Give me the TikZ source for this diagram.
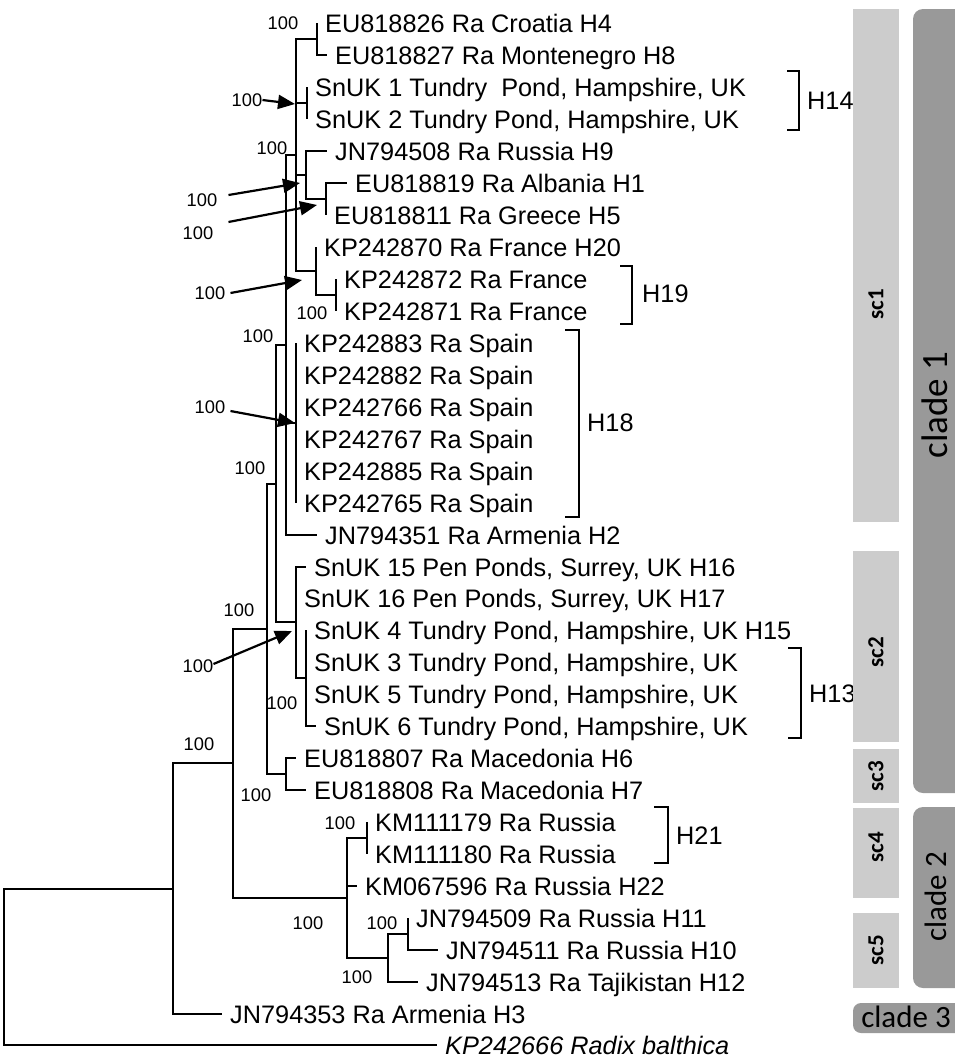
\documentclass[tikz,border=0pt]{standalone}
\usepackage{fontspec}
\setmainfont{Liberation Sans}
\newfontfamily\cladefont{Carlito}
\usetikzlibrary{arrows.meta}
\definecolor{scgray}{HTML}{CCCCCC}
\definecolor{cladegray}{HTML}{999999}
\begin{document}
\begin{tikzpicture}[x=1pt, y=-1pt,
		branch/.style={line width=1.8pt},
		leaf/.style={anchor=west, inner xsep=8pt, inner ysep=0pt, text height=18.1pt, text depth=0pt, font=\fontsize{25.3}{28}\selectfont},
		boot/.style={inner sep=0pt, text height=13.1pt, text depth=0pt, font=\fontsize{18.3}{20}\selectfont},
		pointer/.style={line width=2.2pt, -{Triangle[length=17pt, width=14pt]}},
		hap/.style={line width=1.8pt},
		haplabel/.style={anchor=west, inner sep=0pt, text height=18.1pt, text depth=0pt, font=\fontsize{25.3}{28}\selectfont},
		subclade/.style={rotate=90, font=\cladefont\bfseries\fontsize{23}{25}\selectfont},
		clade/.style={font=\cladefont\fontsize{31}{34}\selectfont}]
	\useasboundingbox (0,0) rectangle (955,1058);
	\clip (0,0) rectangle (955,1058);

	\coordinate (root) at (4,967);
	\coordinate (nB) at (173,889);
	\coordinate (nC) at (233,763);
	\coordinate (nD) at (267,629);
	\coordinate (nE) at (276,484);
	\coordinate (nG) at (286,345);
	\coordinate (nI) at (296,155);
	\coordinate (nJ) at (317,39);
	\coordinate (nS12) at (307,103);
	\coordinate (nR) at (306,175);
	\coordinate (nAG) at (326,199);
	\coordinate (nFr) at (316,271);
	\coordinate (nF2) at (336,295);
	\coordinate (nSp) at (296,423);
	\coordinate (nH) at (296,622);
	\coordinate (nS46) at (306,678);
	\coordinate (nF) at (286,774);
	\coordinate (nK) at (347,898);
	\coordinate (nKM) at (367,838);
	\coordinate (nJN) at (388,958);
	\coordinate (nJN2) at (408,934);

	\node[leaf] (l1) at (317,23) {EU818826 Ra Croatia H4};
	\node[leaf] (l2) at (327,55) {EU818827 Ra Montenegro H8};
	\node[leaf] (l3) at (307,87) {SnUK 1 Tundry\ \ Pond, Hampshire, UK};
	\node[leaf] (l4) at (307,119) {SnUK 2 Tundry Pond, Hampshire, UK};
	\node[leaf] (l5) at (327,151) {JN794508 Ra Russia H9};
	\node[leaf] (l6) at (347,183) {EU818819 Ra Albania H1};
	\node[leaf] (l7) at (326,215) {EU818811 Ra Greece H5};
	\node[leaf] (l8) at (316,247) {KP242870 Ra France H20};
	\node[leaf] (l9) at (336,279) {KP242872 Ra France};
	\node[leaf] (l10) at (336,311) {KP242871 Ra France};
	\node[leaf] (l11) at (296,343) {KP242883 Ra Spain};
	\node[leaf] (l12) at (296,375) {KP242882 Ra Spain};
	\node[leaf] (l13) at (296,407) {KP242766 Ra Spain};
	\node[leaf] (l14) at (296,439) {KP242767 Ra Spain};
	\node[leaf] (l15) at (296,471) {KP242885 Ra Spain};
	\node[leaf] (l16) at (296,503) {KP242765 Ra Spain};
	\node[leaf] (l17) at (317,535) {JN794351 Ra Armenia H2};
	\node[leaf] (l18) at (306,567) {SnUK 15 Pen Ponds, Surrey, UK H16};
	\node[leaf] (l19) at (296,598) {SnUK 16 Pen Ponds, Surrey, UK H17};
	\node[leaf] (l20) at (306,630) {SnUK 4 Tundry Pond, Hampshire, UK H15};
	\node[leaf] (l21) at (306,662) {SnUK 3 Tundry Pond, Hampshire, UK};
	\node[leaf] (l22) at (306,694) {SnUK 5 Tundry Pond, Hampshire, UK};
	\node[leaf] (l23) at (316,726) {SnUK 6 Tundry Pond, Hampshire, UK};
	\node[leaf] (l24) at (296,758) {EU818807 Ra Macedonia H6};
	\node[leaf] (l25) at (306,790) {EU818808 Ra Macedonia H7};
	\node[leaf] (l26) at (367,822) {KM111179 Ra Russia};
	\node[leaf] (l27) at (367,854) {KM111180 Ra Russia};
	\node[leaf] (l28) at (357,886) {KM067596 Ra Russia H22};
	\node[leaf] (l29) at (408,918) {JN794509 Ra Russia H11};
	\node[leaf] (l30) at (438,950) {JN794511 Ra Russia H10};
	\node[leaf] (l31) at (418,982) {JN794513 Ra Tajikistan H12};
	\node[leaf] (l32) at (222,1014) {JN794353 Ra Armenia H3};
	\node[leaf] (l33) at (437,1045) {\itshape KP242666 Radix balthica};

	\draw[branch] (root) |- (nB);
	\draw[branch] (root) |- (l33.west);
	\draw[branch] (nB) |- (nC);
	\draw[branch] (nB) |- (l32.west);
	\draw[branch] (nC) |- (nD);
	\draw[branch] (nC) |- (nK);
	\draw[branch] (nD) |- (nE);
	\draw[branch] (nD) |- (nF);
	\draw[branch] (nE) |- (nG);
	\draw[branch] (nE) |- (nH);
	\draw[branch] (nG) |- (nI);
	\draw[branch] (nG) |- (nSp);
	\draw[branch] (nG) |- (l17.west);
	\draw[branch] (nI) |- (nJ);
	\draw[branch] (nI) |- (nS12);
	\draw[branch] (nI) |- (nR);
	\draw[branch] (nI) |- (nFr);
	\draw[branch] (nJ) |- (l1.west);
	\draw[branch] (nJ) |- (l2.west);
	\draw[branch] (nS12) |- (l3.west);
	\draw[branch] (nS12) |- (l4.west);
	\draw[branch] (nR) |- (l5.west);
	\draw[branch] (nR) |- (nAG);
	\draw[branch] (nAG) |- (l6.west);
	\draw[branch] (nAG) |- (l7.west);
	\draw[branch] (nFr) |- (l8.west);
	\draw[branch] (nFr) |- (nF2);
	\draw[branch] (nF2) |- (l9.west);
	\draw[branch] (nF2) |- (l10.west);
	\foreach \i in {11,...,16}
		\draw[branch] (nSp) |- (l\i.west);
	\draw[branch] (nH) |- (l18.west);
	\draw[branch] (nH) |- (l19.west);
	\draw[branch] (nH) |- (nS46);
	\foreach \i in {20,...,23}
		\draw[branch] (nS46) |- (l\i.west);
	\draw[branch] (nF) |- (l24.west);
	\draw[branch] (nF) |- (l25.west);
	\draw[branch] (nK) |- (nKM);
	\draw[branch] (nK) |- (l28.west);
	\draw[branch] (nK) |- (nJN);
	\draw[branch] (nKM) |- (l26.west);
	\draw[branch] (nKM) |- (l27.west);
	\draw[branch] (nJN) |- (nJN2);
	\draw[branch] (nJN) |- (l31.west);
	\draw[branch] (nJN2) |- (l29.west);
	\draw[branch] (nJN2) |- (l30.west);

	\node[boot] (b1) at (283,23) {100};
	\node[boot] (b2) at (247,100) {100};
	\node[boot] (b3) at (272,148) {100};
	\node[boot] (b4) at (202,200) {100};
	\node[boot] (b5) at (198,233) {100};
	\node[boot] (b6) at (210,293) {100};
	\node[boot] (b7) at (312,313) {100};
	\node[boot] (b8) at (258,336) {100};
	\node[boot] (b9) at (210,407) {100};
	\node[boot] (b10) at (250,468) {100};
	\node[boot] (b11) at (239,610) {100};
	\node[boot] (b12) at (198,666) {100};
	\node[boot] (b13) at (282,703) {100};
	\node[boot] (b14) at (199,744) {100};
	\node[boot] (b15) at (256,795) {100};
	\node[boot] (b16) at (340,823) {100};
	\node[boot] (b17) at (308,923) {100};
	\node[boot] (b18) at (382,923) {100};
	\node[boot] (b19) at (357,977) {100};

	\coordinate (t2) at (295,104);
	\coordinate (t4) at (300,183);
	\coordinate (t5) at (317,205);
	\coordinate (t6) at (302,280);
	\coordinate (t9) at (295,423);
	\coordinate (t12) at (292,631);
	\draw[pointer] (b2.east) -- (t2);
	\draw[pointer] ([xshift=11pt,yshift=5pt]b4.east) -- (t4);
	\draw[pointer] ([xshift=15pt,yshift=11pt]b5.east) -- (t5);
	\draw[pointer] ([xshift=5pt]b6.east) -- (t6);
	\draw[pointer] ([xshift=5pt,yshift=-4pt]b9.east) -- (t9);
	\draw[pointer] ([yshift=2pt]b12.east) -- (t12);

	\coordinate (h14a) at (787,71);
	\coordinate (h14b) at (787,130);
	\coordinate (h19a) at (620,266);
	\coordinate (h19b) at (620,324);
	\coordinate (h18a) at (565,330);
	\coordinate (h18b) at (565,517);
	\coordinate (h13a) at (788,648);
	\coordinate (h13b) at (788,738);
	\coordinate (h21a) at (654,807);
	\coordinate (h21b) at (654,863);
	\draw[hap] (h14a) -- ++(12,0) |- (h14b);
	\draw[hap] (h19a) -- ++(12,0) |- (h19b);
	\draw[hap] (h18a) -- ++(14,0) |- (h18b);
	\draw[hap] (h13a) -- ++(13,0) |- (h13b);
	\draw[hap] (h21a) -- ++(14,0) |- (h21b);
	\node[haplabel] (H14) at (807,100) {H14};
	\node[haplabel] (H19) at (642,293) {H19};
	\node[haplabel] (H18) at (587,422) {H18};
	\node[haplabel] (H13) at (809,693) {H13};
	\node[haplabel] (H21) at (676,835) {H21};

	\fill[scgray] (853,9) rectangle (899,522);
	\fill[scgray] (853,551) rectangle (899,742);
	\fill[scgray] (853,749) rectangle (899,803);
	\fill[scgray] (853,808) rectangle (899,898);
	\fill[scgray] (853,913) rectangle (899,988);
	\fill[cladegray, rounded corners=10pt] (913,9) rectangle (975,793);
	\fill[cladegray, rounded corners=10pt] (913,807) rectangle (975,988);
	\fill[cladegray, rounded corners=8pt] (853,1003) rectangle (975,1033);
	\node[subclade] (sc1) at (876,304) {sc1};
	\node[subclade] (sc2) at (876,652) {sc2};
	\node[subclade] (sc3) at (876,776) {sc3};
	\node[subclade] (sc4) at (876,847) {sc4};
	\node[subclade] (sc5) at (876,950) {sc5};
	\node[clade, rotate=90, font=\cladefont\fontsize{37}{40}\selectfont] (c1) at (935,405) {clade 1};
	\node[clade, rotate=90] (c2) at (936,897) {clade 2};
	\node[clade] (c3) at (906,1017) {clade 3};
\end{tikzpicture}
\end{document}
